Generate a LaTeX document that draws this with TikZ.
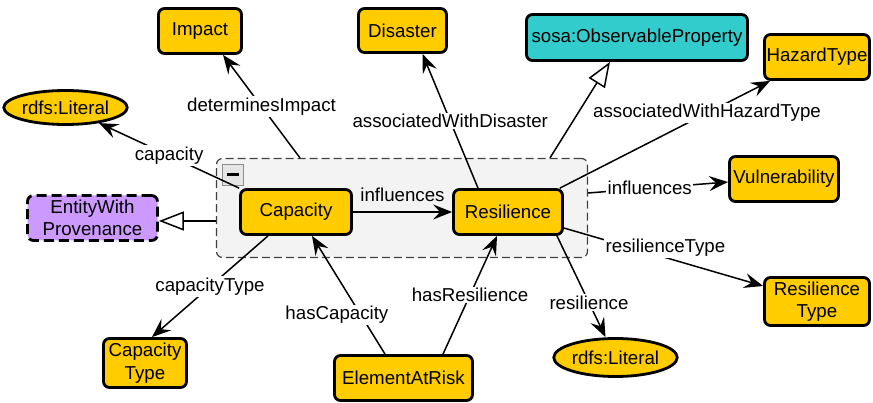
\documentclass[tikz,border=0pt]{standalone}
\usepackage{fontspec}
\setmainfont{Liberation Sans}
\usetikzlibrary{arrows.meta,calc,shapes.geometric}
\definecolor{clsyellow}{HTML}{FFCC00}
\definecolor{extteal}{HTML}{33CCCC}
\definecolor{provpurple}{HTML}{CC99FF}
\definecolor{grpfill}{HTML}{F3F3F3}
\begin{document}
\begin{tikzpicture}[x=1pt,y=-1pt,
  every node/.style={font=\fontsize{18.7}{22.5}\selectfont, text=black},
  box/.style={draw, line width=2.8pt, rounded corners=6pt, fill=clsyellow,
    inner sep=0pt, align=center},
  lit/.style={ellipse, draw, line width=2.8pt, fill=clsyellow, inner sep=0pt},
  edge/.style={line width=1.5pt, -{Stealth[length=19pt,width=15pt,inset=7pt]}},
  subcl/.style={line width=1.5pt, -{Triangle[open,length=25pt,width=19pt,fill=white]}},
  lbl/.style={fill=white, inner sep=1.5pt},
]
\useasboundingbox (0,0) rectangle (873,403);

% group frame holding Capacity and Resilience
\node[draw=black!75, dashed, dash pattern=on 8pt off 4pt, line width=1.2pt,
      rounded corners=6pt, fill=grpfill, minimum width=371pt, minimum height=99pt]
      (grp) at (402,208) {};
\node[draw=black!45, line width=1pt, fill=black!10, minimum width=21pt,
      minimum height=21pt, inner sep=0pt] (fold) at (233,175) {\rule{12pt}{3pt}};

% classes
\node[box, minimum width=83pt, minimum height=45pt] (imp) at (200,31) {Impact};
\node[box, minimum width=88pt, minimum height=44pt] (dis) at (402.5,30.5) {Disaster};
\node[box, fill=extteal, minimum width=221pt, minimum height=46pt] (sosa) at (637,37.5) {sosa:ObservableProperty};
\node[box, minimum width=105pt, minimum height=45pt] (hz) at (817,57) {HazardType};
\node[lit, minimum width=112pt, minimum height=34pt] (lita) at (65.5,107.5) {rdfs:Literal};
\node[box, fill=provpurple, dashed, dash pattern=on 10pt off 5pt, minimum width=130pt,
      minimum height=45pt] (ewp) at (92.5,218) {EntityWith\\Provenance};
\node[box, minimum width=111pt, minimum height=45pt] (cap) at (296,212) {Capacity};
\node[box, minimum width=109pt, minimum height=45pt] (res) at (508,212) {Resilience};
\node[box, minimum width=109pt, minimum height=45pt] (vul) at (784,179) {Vulnerability};
\node[box, minimum width=105pt, minimum height=48pt] (rtype) at (817,301.5) {Resilience\\Type};
\node[lit, minimum width=112pt, minimum height=38pt] (litb) at (615.5,357.5) {rdfs:Literal};
\node[box, minimum width=83pt, minimum height=49pt] (ctype) at (145,363) {Capacity\\Type};
\node[box, minimum width=138pt, minimum height=45pt] (ear) at (403.5,378) {ElementAtRisk};

% subclass links
\draw[subcl] ($(grp.west)+(0,13)$) -- ($(ewp.east)+(0,3)$);
\draw[subcl] ($(grp.north)+(148,0)$) -- ($(sosa.south)+(-27,0)$);

% properties
\draw[edge] ($(grp.north)+(-102,0)$) -- node[lbl]{determinesImpact} ($(imp.south)+(23,0)$);
\draw[edge] ($(res.north)+(-30,0)$) -- node[lbl]{associatedWithDisaster} ($(dis.south)+(20,0)$);
\draw[edge] ($(res.north east)+(-4,0)$) -- node[lbl, pos=0.7]{associatedWithHazardType} ($(hz.south west)+(7,0)$);
\draw[edge] ($(grp.east)+(0,-15)$) -- node[lbl, pos=0.44]{influences} ($(vul.west)+(0,3)$);
\draw[edge] (cap.east) -- node[anchor=base, yshift=10pt, inner sep=0pt]{influences} (res.west);
\draw[edge] (cap.north west) -- node[lbl]{capacity} (lita);
\draw[edge] ($(cap.south)+(-28,0)$) -- node[lbl]{capacityType} ($(ctype.north)+(7,0)$);
\draw[edge] ($(ear.north)+(-18.5,0)$) -- node[lbl, pos=0.33, xshift=-24pt]{hasCapacity} ($(cap.south)+(16,0)$);
\draw[edge] ($(ear.north)+(39.5,0)$) -- node[lbl]{hasResilience} ($(res.south)+(-11,0)$);
\draw[edge] ($(res.east)+(0,16)$) -- node[lbl, pos=0.51, yshift=10pt]{resilienceType} ($(rtype.west)+(0,-15.5)$);
\draw[edge] ($(res.south)+(49,0)$) -- node[lbl, pos=0.66]{resilience} ($(litb.north)+(-10,0)$);
\end{tikzpicture}
\end{document}
